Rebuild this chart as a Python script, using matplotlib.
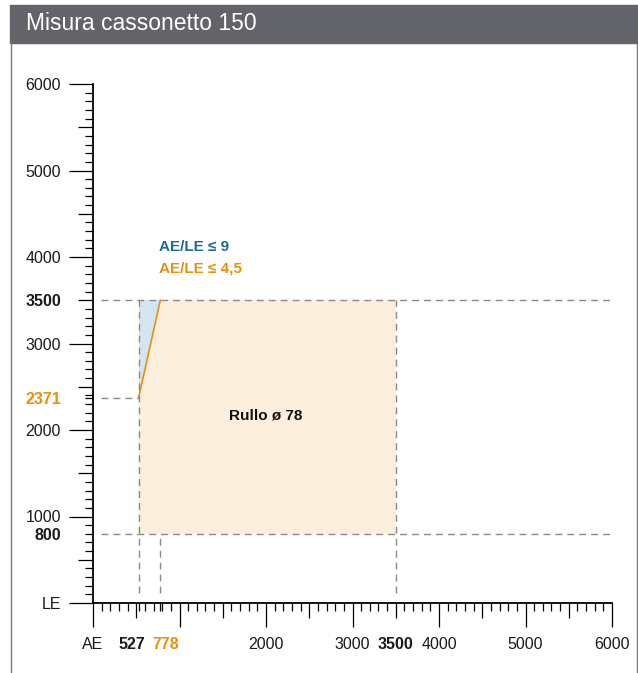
import matplotlib.pyplot as plt
from matplotlib.patches import Polygon, Rectangle
from matplotlib.lines import Line2D
from matplotlib.ticker import MultipleLocator
from matplotlib.transforms import ScaledTranslation

plt.rcParams['font.family'] = ['Liberation Sans', 'DejaVu Sans']

# limits of the "Rullo ø 78" field
ae_min, ae_mid, ae_max = 527, 778, 3500
le_min, le_mid, le_max = 800, 2371, 3500

x_ticks = [0, 500, 527, 778, 1000, 1500, 2000, 2500, 3000, 3500, 4000, 4500, 5000, 5500, 6000]
x_labels = ['AE', '', '527', '778', '', '', '2000', '', '3000', '3500', '4000', '', '5000', '', '6000']
y_ticks = [0, 500, 800, 1000, 1500, 2000, 2371, 2500, 3000, 3500, 4000, 4500, 5000, 5500, 6000]
y_labels = ['LE', '', '800', '1000', '', '2000', '2371', '', '3000', '3500', '4000', '', '5000', '', '6000']
bold_vals = [527, 800, 3500]
orange_vals = [778, 2371]

ORANGE = '#E8900C'
BLUE_TXT = '#1B6A93'
FILL_OR = '#FCEEDD'
FILL_BL = '#D5E5F0'
DASH = '#8a8a8a'

fig = plt.figure(figsize=(6.38, 6.73), dpi=100)
ax = fig.add_axes([93/638, 70/673, 519/638, 519/673])
ax.set_xlim(0, 6000)
ax.set_ylim(0, 6000)

# filled areas
orange_poly = [(ae_min, le_min), (ae_max, le_min), (ae_max, le_max),
               (ae_mid, le_max), (ae_min, le_mid)]
blue_poly = [(ae_min, le_mid), (ae_min, le_max), (ae_mid, le_max)]
ax.add_patch(Polygon(orange_poly, closed=True, facecolor=FILL_OR, edgecolor='none'))
ax.add_patch(Polygon(blue_poly, closed=True, facecolor=FILL_BL, edgecolor='none'))
ax.plot([ae_min, ae_mid], [le_mid, le_max], color=ORANGE, lw=1.2)

# dashed guides
dkw = dict(color=DASH, lw=1.0, dashes=(5, 3.6))
ax.plot([90, 6000], [le_max, le_max], **dkw)
ax.plot([90, 6000], [le_min, le_min], **dkw)
ax.plot([90, ae_min], [le_mid, le_mid], **dkw)
ax.plot([ae_min, ae_min], [110, le_max], **dkw)
ax.plot([ae_mid, ae_mid], [110, le_min], **dkw)
ax.plot([ae_max, ae_max], [110, le_max], **dkw)

# texts
ax.text(766, 4120, 'AE/LE ≤ 9', color=BLUE_TXT, fontsize=11, fontweight='bold', va='center')
ax.text(766, 3870, 'AE/LE ≤ 4,5', color=ORANGE, fontsize=11, fontweight='bold', va='center')
ax.text(2000, 2170, 'Rullo ø 78', color='#111111', fontsize=11, fontweight='bold',
        ha='center', va='center')

# axes styling
for s in ['top', 'right']:
    ax.spines[s].set_visible(False)
for s in ['left', 'bottom']:
    ax.spines[s].set_linewidth(1.3)
ax.set_xticks(x_ticks, x_labels)
ax.set_yticks(y_ticks, y_labels)
ax.xaxis.set_minor_locator(MultipleLocator(100))
ax.yaxis.set_minor_locator(MultipleLocator(100))
ax.tick_params(which='major', length=17.5, width=0.9, labelsize=11.5, labelcolor='#1a1a1a')
ax.tick_params(axis='x', which='major', pad=7)
ax.tick_params(axis='y', which='major', pad=5.5)
ax.tick_params(which='minor', length=6, width=0.9)


def tick_len(v):
    if v % 1000 == 0:
        return 17.5
    if v % 500 == 0:
        return 11
    return 6


for axis, vals in [(ax.xaxis, x_ticks), (ax.yaxis, y_ticks)]:
    for t, v in zip(axis.get_major_ticks(), vals):
        t.tick1line.set_markersize(tick_len(v))
        if v in bold_vals:
            t.label1.set_fontweight('bold')
        if v in orange_vals:
            t.label1.set_fontweight('bold')
            t.label1.set_color(ORANGE)

# pull the crowded 527 / 778 labels apart
for t, v in zip(ax.xaxis.get_major_ticks(), x_ticks):
    if v == ae_min:
        t.label1.set_horizontalalignment('right')
        t.label1.set_transform(t.label1.get_transform() +
                               ScaledTranslation(0.07, 0, fig.dpi_scale_trans))
    elif v == ae_mid:
        t.label1.set_horizontalalignment('left')
        t.label1.set_transform(t.label1.get_transform() +
                               ScaledTranslation(-0.08, 0, fig.dpi_scale_trans))

# header bar and frame
fig.add_artist(Rectangle((10/638, 630/673), 628/638, 38/673,
                         transform=fig.transFigure, color='#636469'))
fig.text(26/638, (673 - 24)/673, 'Misura cassonetto 150', color='white',
         fontsize=16.5, va='center')
fig.add_artist(Line2D([10.5/638, 10.5/638], [0, 630/673], color='#777777', lw=1))
fig.add_artist(Line2D([636.5/638, 636.5/638], [0, 630/673], color='#777777', lw=1))

fig.savefig('out.png', dpi=100)
